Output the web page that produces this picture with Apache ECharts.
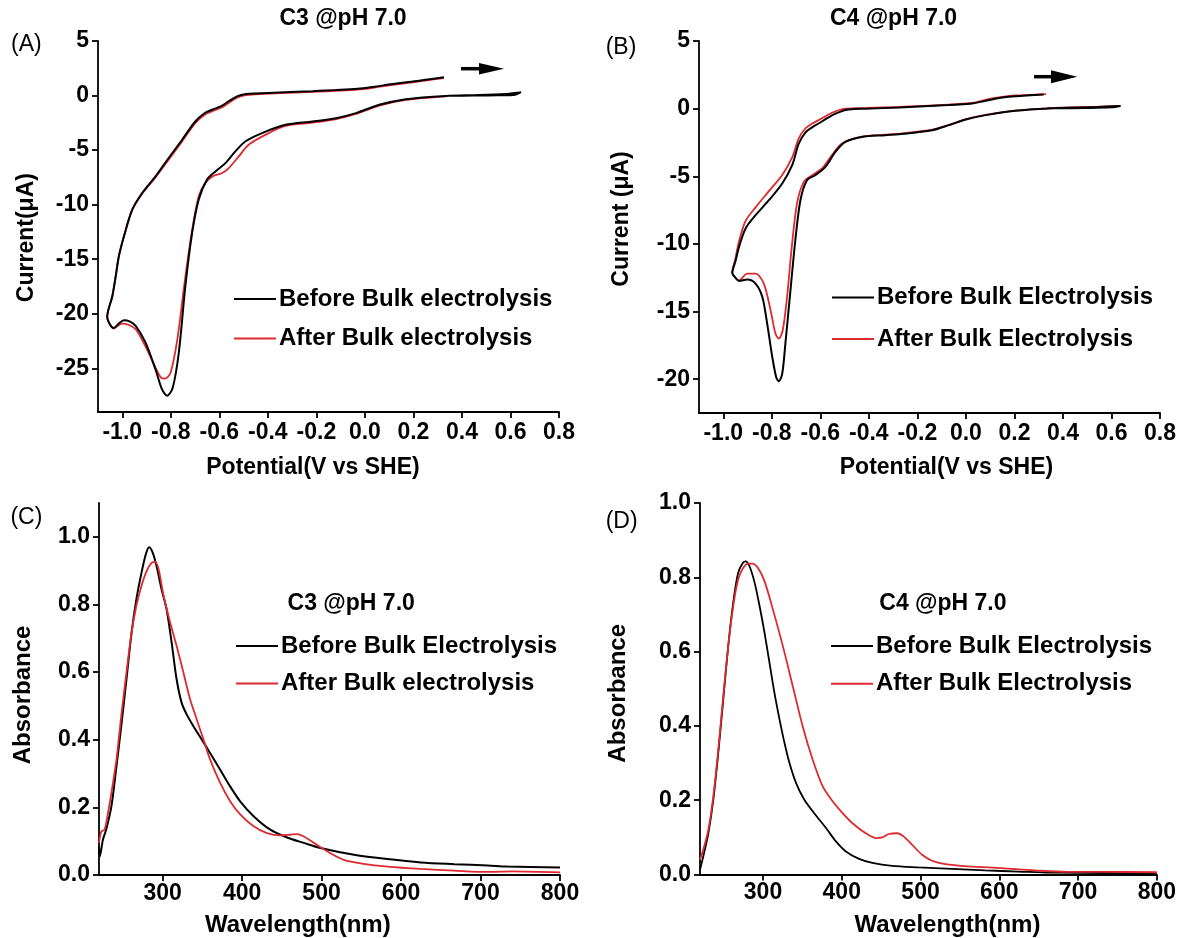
<!DOCTYPE html>
<html>
<head>
<meta charset="utf-8">
<script src="https://cdn.jsdelivr.net/npm/echarts@6/dist/echarts.min.js"></script>
<style>
html,body{margin:0;padding:0;background:#fff;}
#chart{width:1179px;height:938px;}
</style>
</head>
<body>
<div id="chart"></div>
<script>
// ---------- DATA ----------
// Panel A: CV of C3 (potential V vs SHE, current uA)
const cvA_before = [
  [0.326,1.68],[0.25,1.45],[0.196,1.28],[0.13,1.1],[0.086,0.98],[0.04,0.8],[0.004,0.7],[-0.078,0.55],[-0.216,0.4],[-0.353,0.28],[-0.45,0.2],[-0.49,0.14],[-0.525,-0.05],[-0.56,-0.5],[-0.59,-0.95],[-0.63,-1.3],[-0.66,-1.6],[-0.70,-2.4],[-0.755,-4.1],[-0.808,-5.7],[-0.863,-7.4],[-0.918,-8.93],[-0.959,-10.46],[-0.993,-12.9],[-1.014,-14.73],[-1.027,-16.56],[-1.041,-18.39],[-1.062,-20.27],
  [-1.05,-21.0],[-1.035,-21.3],[-1.015,-20.9],[-0.993,-20.6],[-0.97,-20.7],[-0.944,-21.13],[-0.904,-22.65],[-0.863,-25.1],[-0.836,-26.93],[-0.815,-27.5],[-0.792,-26.77],[-0.767,-23.57],[-0.74,-17.47],[-0.712,-12.59],[-0.685,-9.54],[-0.651,-7.71],[-0.616,-6.95],[-0.575,-6.19],[-0.534,-5.12],[-0.493,-4.21],[-0.424,-3.44],[-0.328,-2.68],[-0.216,-2.38],[-0.119,-2.07],[-0.037,-1.61],[0.059,-0.85],[0.169,-0.33],[0.333,-0.03],[0.47,0.05],[0.58,0.15],[0.625,0.25],[0.643,0.31],[0.62,0.08],[0.55,0.02],[0.45,0.0],[0.34,-0.02]
];
const cvA_after = [
  [0.326,1.6],[0.25,1.38],[0.196,1.2],[0.13,1.03],[0.086,0.9],[0.04,0.72],[0.004,0.62],[-0.078,0.48],[-0.216,0.34],[-0.353,0.22],[-0.45,0.12],[-0.49,0.04],[-0.525,-0.18],[-0.56,-0.65],[-0.59,-1.1],[-0.63,-1.45],[-0.66,-1.75],[-0.70,-2.55],[-0.755,-4.25],[-0.808,-5.85],[-0.863,-7.5],[-0.918,-9.0],[-0.959,-10.5],[-0.993,-12.9],[-1.014,-14.73],[-1.027,-16.56],[-1.041,-18.39],[-1.062,-20.27],
  [-1.05,-21.0],[-1.035,-21.35],[-1.015,-21.05],[-1.002,-20.9],[-0.975,-21.0],[-0.944,-21.44],[-0.904,-23.0],[-0.863,-24.94],[-0.842,-25.8],[-0.825,-25.95],[-0.801,-25.4],[-0.773,-22.35],[-0.745,-17.47],[-0.714,-12.59],[-0.685,-9.24],[-0.657,-8.0],[-0.623,-7.35],[-0.588,-7.1],[-0.561,-6.64],[-0.52,-5.58],[-0.479,-4.51],[-0.41,-3.6],[-0.328,-2.78],[-0.216,-2.48],[-0.119,-2.15],[-0.037,-1.68],[0.059,-0.92],[0.169,-0.4],[0.333,-0.07]
];
// Panel B: CV of C4
const cvB_before = [
  [0.32,1.05],[0.204,0.92],[0.15,0.82],[0.108,0.68],[0.06,0.5],[0.026,0.38],[-0.07,0.26],[-0.275,0.09],[-0.412,-0.01],[-0.46,-0.03],[-0.497,-0.1],[-0.525,-0.28],[-0.552,-0.5],[-0.58,-0.8],[-0.607,-1.1],[-0.635,-1.4],[-0.661,-1.75],[-0.689,-2.58],[-0.716,-4.18],[-0.757,-5.53],[-0.812,-6.77],[-0.867,-7.88],[-0.908,-8.86],[-0.935,-10.22],[-0.95,-11.3],[-0.963,-12.14],
  [-0.95,-12.5],[-0.935,-12.74],[-0.901,-12.64],[-0.867,-12.93],[-0.839,-13.92],[-0.819,-15.89],[-0.798,-18.36],[-0.782,-19.84],[-0.771,-20.16],[-0.757,-19.59],[-0.744,-17.37],[-0.723,-13.42],[-0.703,-9.73],[-0.682,-6.77],[-0.655,-5.29],[-0.621,-4.92],[-0.579,-4.3],[-0.538,-3.2],[-0.497,-2.46],[-0.429,-2.09],[-0.333,-1.96],[-0.275,-1.89],[-0.138,-1.59],[-0.07,-1.22],[0.0,-0.8],[0.081,-0.48],[0.204,-0.16],[0.341,0.01],[0.546,0.13],[0.637,0.2],[0.6,0.1],[0.5,0.05],[0.335,0.02]
];
const cvB_after = [
  [0.33,1.08],[0.204,0.97],[0.15,0.87],[0.108,0.75],[0.06,0.56],[0.026,0.42],[-0.07,0.3],[-0.275,0.12],[-0.41,0.05],[-0.46,0.03],[-0.497,0.0],[-0.525,-0.12],[-0.552,-0.3],[-0.58,-0.58],[-0.607,-0.85],[-0.635,-1.12],[-0.661,-1.45],[-0.689,-2.2],[-0.716,-3.6],[-0.757,-4.9],[-0.812,-6.1],[-0.867,-7.3],[-0.908,-8.3],[-0.935,-9.8],[-0.95,-11.1],[-0.963,-12.14],
  [-0.95,-12.5],[-0.935,-12.7],[-0.901,-12.19],[-0.867,-12.19],[-0.833,-12.93],[-0.805,-14.9],[-0.785,-16.63],[-0.771,-17.0],[-0.755,-16.38],[-0.737,-13.92],[-0.719,-10.47],[-0.696,-7.01],[-0.668,-5.41],[-0.634,-4.92],[-0.593,-4.42],[-0.552,-3.44],[-0.511,-2.58],[-0.43,-2.07],[-0.333,-1.93],[-0.275,-1.86],[-0.138,-1.56],[-0.07,-1.2],[0.0,-0.78],[0.081,-0.46],[0.204,-0.15],[0.34,0.02],[0.546,0.14],[0.637,0.2]
];
// Panel C: UV-vis of C3
const uvC_before_wl = [220,221,225,229,235.6,242,248,254.5,261,267,273.5,279,283,287.4,292.4,298.7,305,311.4,317.7,324,330.3,338.8,349.2,359.7,372.3,385,397.6,414.5,435.5,456.6,477.6,498.6,540.8,582.8,624.9,667,709,734,800];
const uvC_before_abs = [0.085,0.055,0.105,0.134,0.203,0.322,0.44,0.578,0.717,0.815,0.894,0.949,0.969,0.954,0.914,0.845,0.786,0.687,0.578,0.509,0.475,0.44,0.401,0.361,0.312,0.262,0.218,0.174,0.134,0.111,0.095,0.08,0.06,0.047,0.037,0.032,0.028,0.025,0.022];
const uvC_after_wl = [220,223,227,231.4,235.6,242,248,254.5,261,267,273.5,280,286.4,290.6,295,301.3,309.6,317.7,326.3,334.7,343,351.4,359.7,372.3,385,397.6,414.5,431.3,448,460.7,469,477.6,490.3,507,528,553.3,583,625,667,709,740,800];
const uvC_after_abs = [0.095,0.129,0.134,0.184,0.243,0.342,0.47,0.598,0.717,0.796,0.855,0.899,0.924,0.926,0.904,0.825,0.746,0.677,0.598,0.519,0.46,0.401,0.342,0.273,0.218,0.179,0.144,0.124,0.117,0.119,0.121,0.114,0.095,0.07,0.045,0.033,0.025,0.018,0.013,0.009,0.011,0.008];
// Panel D: UV-vis of C4
const uvD_before_wl = [220,224.2,230.6,236.9,243.2,249.5,255.8,262.1,268.4,274.7,278,283,289.4,295.7,302,308.3,314.6,321,327.3,333.6,342,352.5,365,380,392.6,405.2,422,438.9,464,497.7,540,582,624,666,733.5,800];
const uvD_before_abs = [0.013,0.049,0.111,0.201,0.327,0.47,0.614,0.731,0.812,0.84,0.843,0.829,0.785,0.722,0.65,0.569,0.488,0.417,0.354,0.3,0.246,0.201,0.165,0.125,0.089,0.062,0.042,0.031,0.023,0.019,0.015,0.011,0.008,0.005,0.004,0.003];
const uvD_after_wl = [220,224.2,230.6,236.9,243.2,249.5,255.8,262.1,268.4,274.7,281,286.5,293.7,302,312.6,325.3,337.9,350.5,363.1,375.8,388.4,401,413.6,430.4,443,451.5,459.9,470.4,478.8,489.4,502,514.6,531.4,560.8,603,645,687,733.5,800];
const uvD_after_abs = [0.04,0.067,0.12,0.21,0.336,0.479,0.614,0.722,0.794,0.825,0.837,0.837,0.825,0.789,0.713,0.614,0.506,0.398,0.309,0.237,0.197,0.165,0.138,0.111,0.098,0.1,0.109,0.111,0.102,0.08,0.053,0.037,0.028,0.022,0.017,0.011,0.007,0.007,0.006];

// Tick labels
const cvXTicks = [-1.0,-0.8,-0.6,-0.4,-0.2,0.0,0.2,0.4,0.6,0.8];
const cvAYTicks = [-25,-20,-15,-10,-5,0,5];
const cvBYTicks = [-20,-15,-10,-5,0,5];
const uvXTicks = [300,400,500,600,700,800];
const uvYTicks = [0,0.2,0.4,0.6,0.8,1.0];

// Series names / texts
const nameBeforeA = 'Before Bulk electrolysis';
const nameAfterA = 'After Bulk electrolysis';
const nameBefore = 'Before Bulk Electrolysis';
const nameAfter = 'After Bulk Electrolysis';

// ---------- CHART ----------
const FONT = '"Liberation Sans", Arial, Helvetica, sans-serif';
const BLACK = '#000000';
const RED = '#dd2a2e';
const zip = (a, b) => a.map((v, i) => [v, b[i]]);
const f1 = v => v.toFixed(1);
const fi = v => String(Math.round(v));

function axisCommon(ticks, fmt, margin) {
  return {
    type: 'value',
    axisLine: { show: true, onZero: false, lineStyle: { color: BLACK, width: 1.8 } },
    axisTick: { show: true, customValues: ticks, length: 6, lineStyle: { color: BLACK, width: 1.8 } },
    axisLabel: { customValues: ticks, formatter: fmt, margin: margin, color: BLACK, fontSize: 23, fontWeight: 'bold', fontFamily: FONT },
    splitLine: { show: false }
  };
}
function xAx(gi, min, max, ticks, fmt, margin) {
  return Object.assign(axisCommon(ticks, fmt, margin), { gridIndex: gi, min: min, max: max });
}
function yAx(gi, min, max, ticks, fmt, margin) {
  return Object.assign(axisCommon(ticks, fmt, margin), { gridIndex: gi, min: min, max: max });
}
function line(name, data, gi, color, width, smooth, z) {
  return {
    type: 'line', name: name, data: data, xAxisIndex: gi, yAxisIndex: gi,
    showSymbol: false, symbol: 'none', smooth: smooth, color: color, z: z,
    lineStyle: { color: color, width: width }, animation: false, silent: true
  };
}
function txt(x, y, text, size, weight, rot) {
  return {
    type: 'text', x: x, y: y, rotation: rot || 0, silent: true,
    style: { text: text, fill: BLACK, font: (weight || 'bold') + ' ' + size + 'px ' + FONT, textAlign: 'center', textVerticalAlign: 'middle' }
  };
}
function legend(left, top, gap, names) {
  return {
    orient: 'vertical', left: left, top: top, padding: 0, itemGap: gap,
    itemWidth: 42, itemHeight: 2, icon: 'rect', selectedMode: false,
    data: names,
    textStyle: { color: BLACK, fontSize: 24, fontWeight: 'bold', fontFamily: FONT, lineHeight: 24, padding: [0, 0, 0, -2] }
  };
}
function arrow(x0, x1, xh, y, hh) {
  return {
    type: 'group', silent: true, children: [
      { type: 'line', shape: { x1: x0, y1: y, x2: x1, y2: y }, style: { stroke: BLACK, lineWidth: 3.5 } },
      { type: 'polygon', shape: { points: [[x1 - 3, y - hh], [xh, y], [x1 - 3, y + hh]] }, style: { fill: BLACK } }
    ]
  };
}

const chart = echarts.init(document.getElementById('chart'), null, { renderer: 'canvas' });
chart.setOption({
  animation: false,
  backgroundColor: '#ffffff',
  grid: [
    { left: 98, top: 41, width: 461, height: 371 },
    { left: 699, top: 41, width: 462, height: 372 },
    { left: 99, top: 503, width: 461, height: 372 },
    { left: 700, top: 503, width: 462, height: 371.5 }
  ],
  xAxis: [
    xAx(0, -1.1, 0.8, cvXTicks, f1, 9),
    xAx(1, -1.1, 0.8, cvXTicks, f1, 9),
    xAx(2, 220, 800, uvXTicks, fi, 7),
    xAx(3, 220, 800, uvXTicks, fi, 7)
  ],
  yAxis: [
    yAx(0, -29, 5, cvAYTicks, fi, 9),
    yAx(1, -22.5, 5, cvBYTicks, fi, 9),
    yAx(2, 0, 1.1, uvYTicks, f1, 9),
    yAx(3, 0, 1.0, uvYTicks, f1, 9)
  ],
  legend: [
    legend(234, 287, 15.5, [nameBeforeA, nameAfterA]),
    legend(832, 285.5, 17.5, [nameBefore, nameAfter]),
    legend(236, 634, 13.4, [nameBefore, nameAfterA]),
    legend(831, 634, 13.7, [nameBefore, nameAfter])
  ],
  series: [
    line(nameAfterA, cvA_after, 0, RED, 1.8, 0.3, 2),
    line(nameBeforeA, cvA_before, 0, BLACK, 2, 0.3, 3),
    line(nameAfter, cvB_after, 1, RED, 1.8, 0.3, 2),
    line(nameBefore, cvB_before, 1, BLACK, 2, 0.3, 3),
    line(nameBefore, zip(uvC_before_wl, uvC_before_abs), 2, BLACK, 2, 0.3, 2),
    line(nameAfterA, zip(uvC_after_wl, uvC_after_abs), 2, RED, 1.8, 0.3, 3),
    line(nameBefore, zip(uvD_before_wl, uvD_before_abs), 3, BLACK, 1.8, 0.3, 2),
    line(nameAfter, zip(uvD_after_wl, uvD_after_abs), 3, RED, 1.8, 0.3, 3)
  ],
  graphic: [
    txt(26.4, 45, '(A)', 23, 'normal'),
    txt(621, 48, '(B)', 23, 'normal'),
    txt(26.4, 518, '(C)', 23, 'normal'),
    txt(621.6, 521.7, '(D)', 23, 'normal'),
    txt(343, 19, 'C3 @pH 7.0', 23),
    txt(893.5, 19, 'C4 @pH 7.0', 23),
    txt(351.2, 603.3, 'C3 @pH 7.0', 23),
    txt(942.9, 603.3, 'C4 @pH 7.0', 23),
    txt(313, 468, 'Potential(V vs SHE)', 23),
    txt(946.5, 468, 'Potential(V vs SHE)', 23),
    txt(297.8, 925, 'Wavelength(nm)', 24),
    txt(947.5, 925, 'Wavelength(nm)', 24),
    txt(26.4, 237.6, 'Current(\u03bcA)', 23, 'bold', Math.PI / 2),
    txt(622, 219, 'Current (\u03bcA)', 23, 'bold', Math.PI / 2),
    txt(23.4, 695, 'Absorbance', 24, 'bold', Math.PI / 2),
    txt(618.3, 693.3, 'Absorbance', 24, 'bold', Math.PI / 2),
    arrow(461, 482, 504, 68.7, 5.8),
    arrow(1034, 1054, 1077.3, 76.7, 6.5)
  ]
});
</script>
</body>
</html>
